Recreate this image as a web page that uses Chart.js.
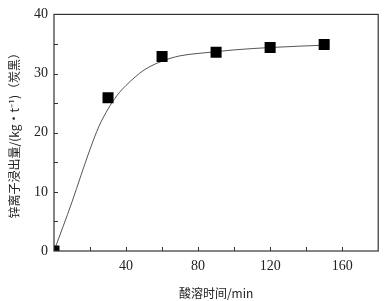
<!DOCTYPE html>
<html>
<head>
<meta charset="utf-8">
<script src="https://cdn.jsdelivr.net/npm/chart.js@4/dist/chart.umd.min.js"></script>
<style>
  html, body { margin: 0; padding: 0; background: #fff; }
  #wrap { width: 386px; height: 301px; }
</style>
</head>
<body>
<div id="wrap"><canvas id="chart"></canvas></div>
<script>
// measured points
const timeMin = [0, 30, 60, 90, 120, 150];
const zincLeach = [0, 25.9, 32.9, 33.6, 34.4, 34.9];

// fitted curve
const fitTime = [0, 5, 10, 15, 20, 25, 30, 35, 40, 45, 50, 60, 70, 80, 90, 100, 120, 150];
const fitValue = [0, 4.1, 8.3, 12.8, 17.2, 21.1, 24, 26.3, 28, 29.4, 30.6, 32.1, 33, 33.4, 33.7, 34, 34.4, 34.8];

const xLabels = [40, 80, 120, 160];
const yLabels = [0, 10, 20, 30, 40];

const serif = "'Liberation Serif', 'DejaVu Serif', serif";
const cjk = "'Noto Sans CJK SC', sans-serif";

// frame + inward ticks
const frameTicks = {
  id: 'frameTicks',
  afterDraw(chart) {
    const { ctx, chartArea: a, scales: { x, y } } = chart;
    ctx.save();
    ctx.strokeStyle = '#333';
    ctx.lineWidth = 1.2;
    ctx.strokeRect(a.left, a.top, a.right - a.left, a.bottom - a.top);
    ctx.lineWidth = 1;
    ctx.beginPath();
    for (let v = 20; v < 180; v += 20) {
      const px = Math.round(x.getPixelForValue(v)) + 0.5;
      ctx.moveTo(px, a.bottom);
      ctx.lineTo(px, a.bottom - 4);
    }
    for (let v = 5; v < 40; v += 5) {
      const py = Math.round(y.getPixelForValue(v)) + 0.5;
      ctx.moveTo(a.left, py);
      ctx.lineTo(a.left + 4, py);
    }
    ctx.stroke();
    ctx.restore();
  }
};

new Chart(document.getElementById('chart'), {
  type: 'scatter',
  plugins: [frameTicks],
  data: {
    datasets: [{
      type: 'line',
      data: fitTime.map((t, i) => ({ x: t, y: fitValue[i] })),
      borderColor: '#555',
      borderWidth: 1,
      pointRadius: 0,
      cubicInterpolationMode: 'monotone',
      fill: false,
      clip: 0,
      order: 2
    }, {
      data: timeMin.map((t, i) => ({ x: t, y: zincLeach[i] })),
      pointStyle: 'rect',
      pointRadius: 7.8,
      pointHoverRadius: 7.8,
      backgroundColor: '#000',
      borderColor: '#000',
      borderWidth: 0,
      clip: 0,
      order: 1
    }]
  },
  options: {
    responsive: true,
    maintainAspectRatio: false,
    animation: false,
    layout: { padding: { top: 12, right: 7, left: 0, bottom: 0 } },
    plugins: {
      legend: { display: false },
      tooltip: { enabled: false }
    },
    scales: {
      x: {
        type: 'linear',
        min: 0,
        max: 180,
        border: { display: false },
        grid: { display: false, drawTicks: false },
        ticks: {
          stepSize: 20,
          padding: 7,
          autoSkip: false,
          maxRotation: 0,
          color: '#222',
          font: { family: serif, size: 14 },
          callback: v => xLabels.includes(v) ? String(v) : ''
        },
        title: {
          display: true,
          text: '酸溶时间/min',
          color: '#222',
          font: { family: cjk, size: 12 },
          padding: { top: 4, bottom: 0 }
        },
        afterFit: s => { s.height = 50; }
      },
      y: {
        min: 0,
        max: 40,
        border: { display: false },
        grid: { display: false, drawTicks: false },
        ticks: {
          stepSize: 5,
          padding: 6,
          autoSkip: false,
          color: '#222',
          font: { family: serif, size: 14 },
          callback: v => yLabels.includes(v) ? String(v) : ''
        },
        title: {
          display: true,
          text: '锌离子浸出量/(kg·t⁻¹)（炭黑）',
          color: '#222',
          font: { family: cjk, size: 12 },
          padding: { top: 7, bottom: 0 }
        },
        afterFit: s => { s.width = 54; }
      }
    }
  }
});
</script>
</body>
</html>
